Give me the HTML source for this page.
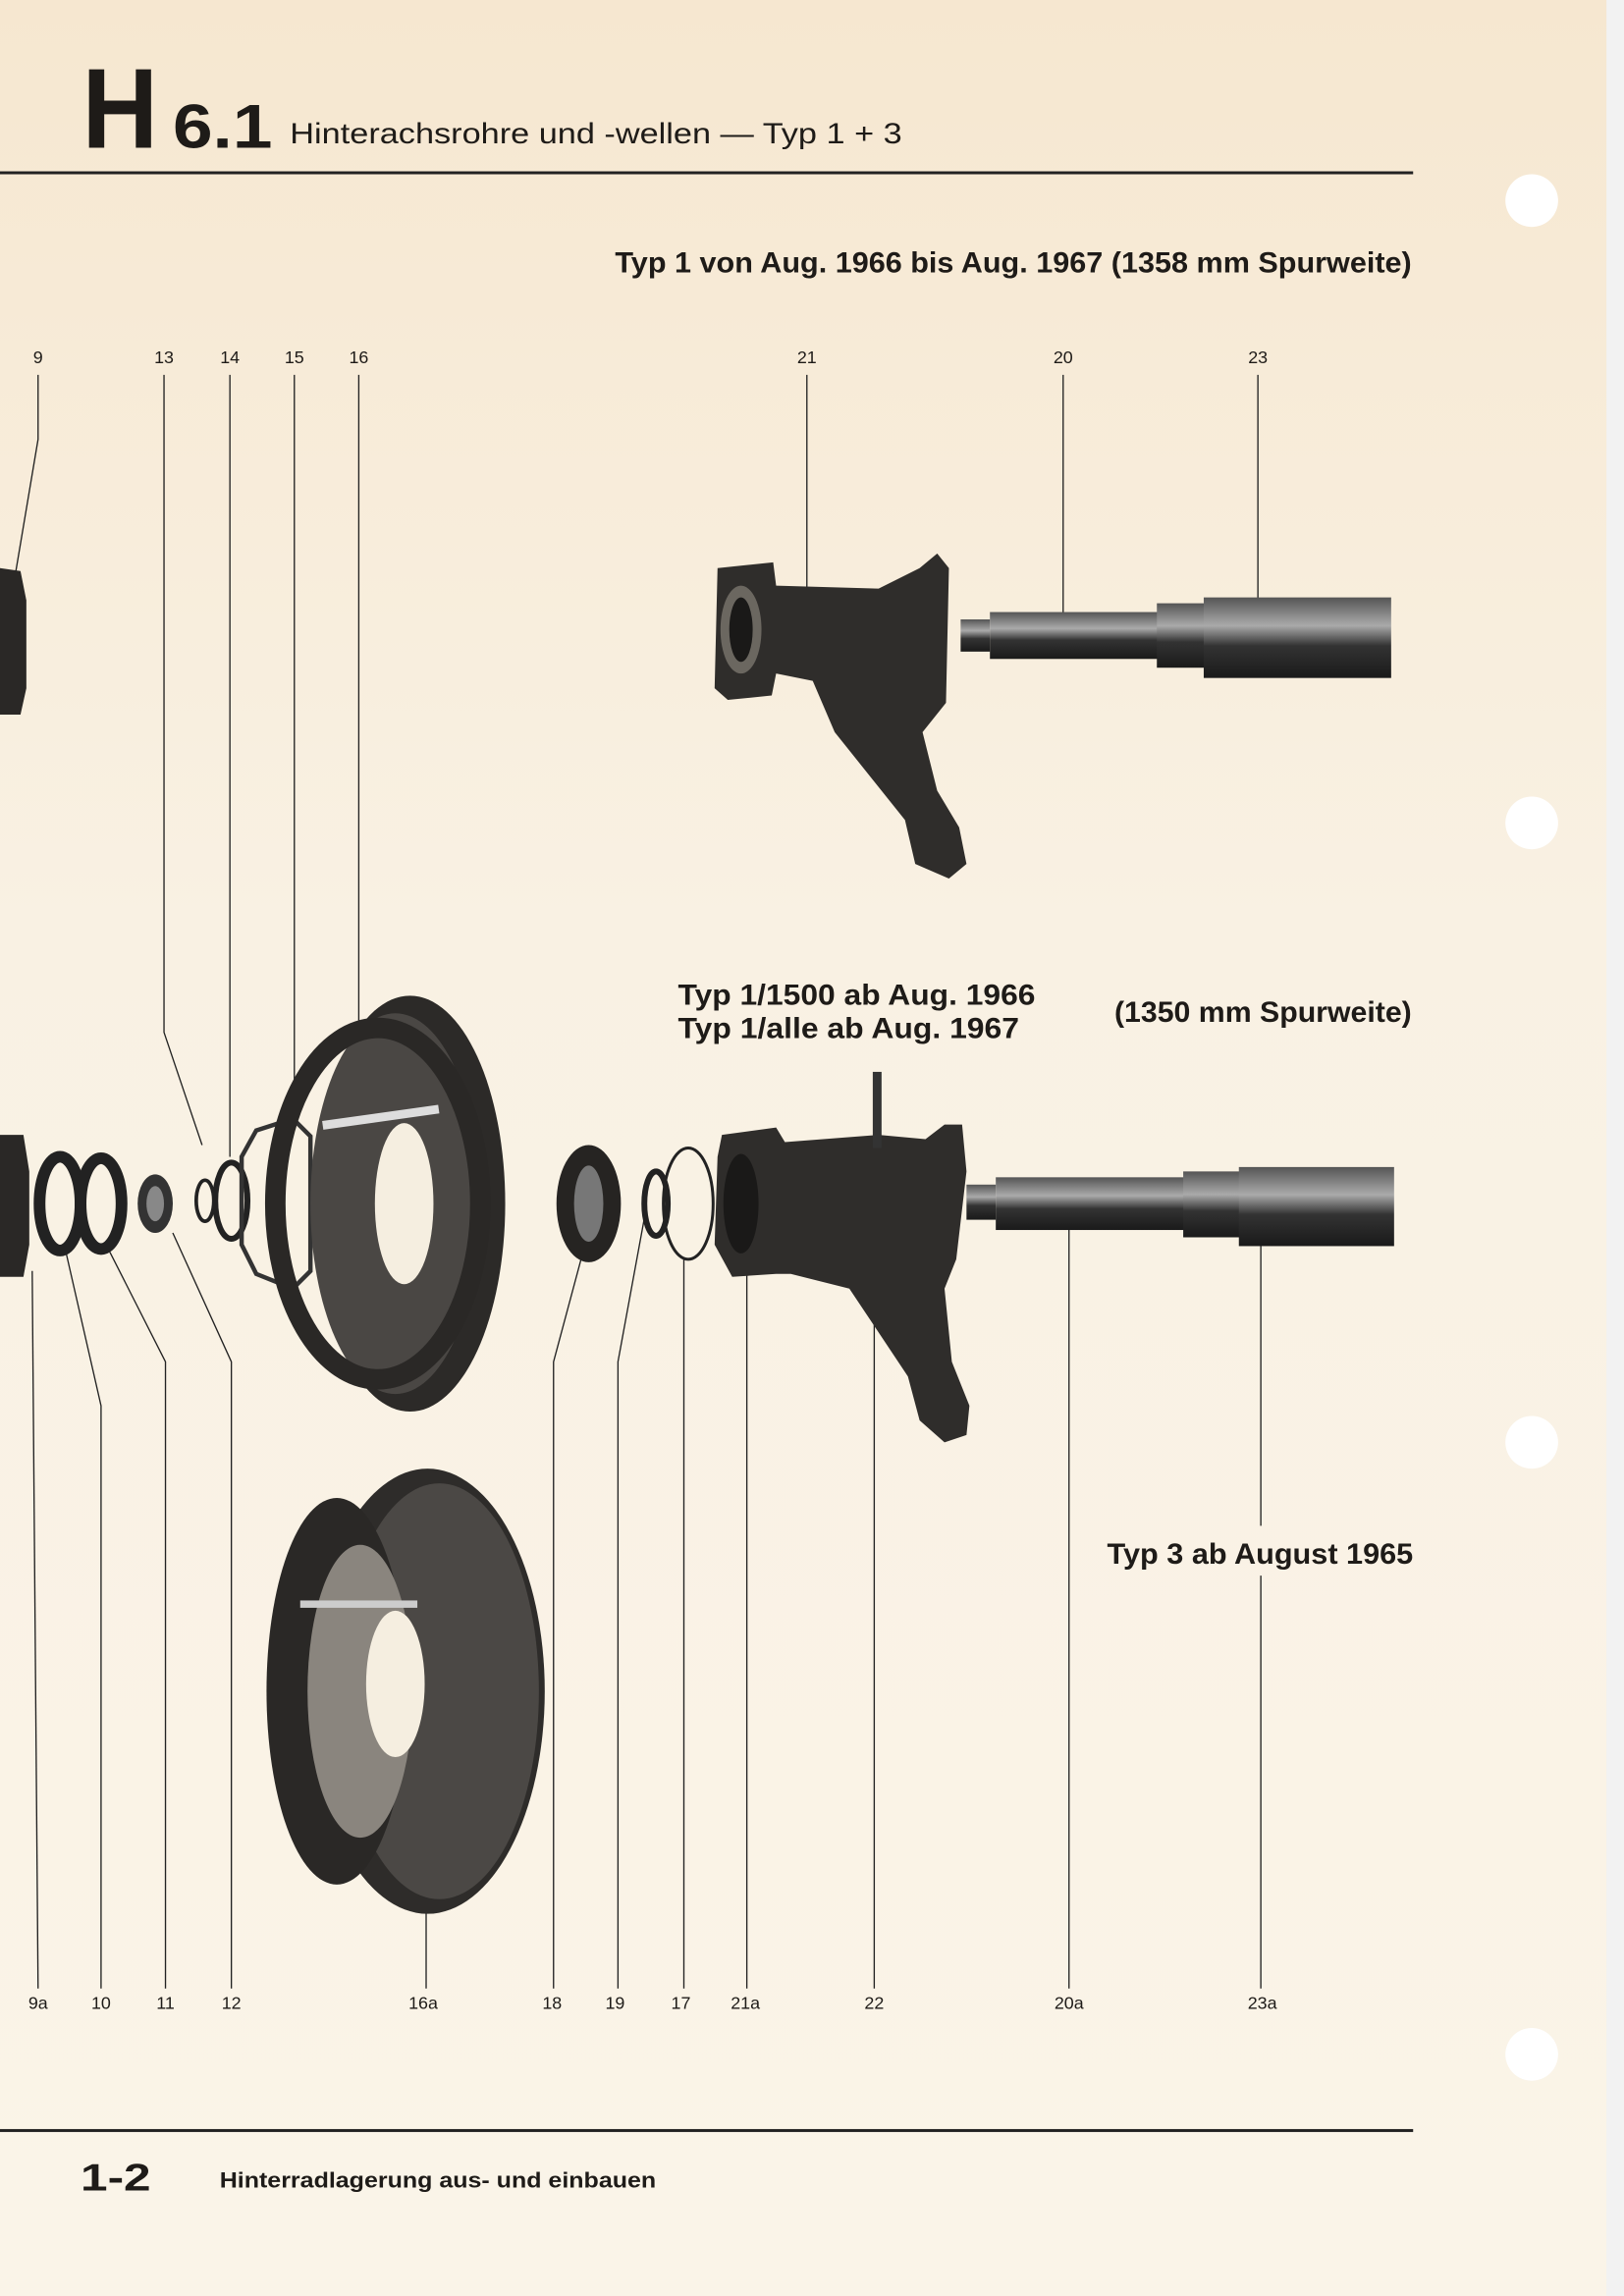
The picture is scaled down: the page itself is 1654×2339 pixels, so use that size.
<!DOCTYPE html>
<html><head><meta charset="utf-8"><style>
html,body{margin:0;padding:0;background:#f8f0e1}
svg{display:block}
text{font-family:"Liberation Sans",sans-serif;fill:#1e1b18}
</style></head><body>
<svg width="1654" height="2339" viewBox="0 0 1109 1568" preserveAspectRatio="none" xmlns="http://www.w3.org/2000/svg">
<defs>
<linearGradient id="bg" x1="0" y1="0" x2="0" y2="1"><stop offset="0" stop-color="#f6e7d0"/><stop offset="0.4" stop-color="#f9f1e3"/><stop offset="1" stop-color="#faf4e8"/></linearGradient>
<linearGradient id="met" x1="0" y1="0" x2="0" y2="1"><stop offset="0" stop-color="#555"/><stop offset="0.35" stop-color="#aaa"/><stop offset="0.6" stop-color="#333"/><stop offset="1" stop-color="#1a1a1a"/></linearGradient>
</defs>
<rect width="1109" height="1568" fill="url(#bg)"/>
<rect x="1097" y="0" width="12" height="1568" fill="#f2f2f2"/>
<g fill="#fff"><circle cx="1046" cy="137" r="18"/><circle cx="1046" cy="562" r="18"/><circle cx="1046" cy="985" r="18"/><circle cx="1046" cy="1403" r="18"/></g>

<!-- header -->
<text x="56" y="101" font-size="78" font-weight="bold" textLength="52" lengthAdjust="spacingAndGlyphs">H</text>
<text x="118" y="101" font-size="42" font-weight="bold" textLength="68" lengthAdjust="spacingAndGlyphs">6.1</text>
<text x="198" y="98" font-size="20" textLength="418" lengthAdjust="spacingAndGlyphs">Hinterachsrohre und -wellen — Typ 1 + 3</text>
<rect x="0" y="117" width="965" height="2" fill="#222"/>
<text x="420" y="186" font-size="20" font-weight="bold" textLength="544" lengthAdjust="spacingAndGlyphs">Typ 1 von Aug. 1966 bis Aug. 1967 (1358 mm Spurweite)</text>

<!-- top labels -->
<g font-size="12" text-anchor="middle">
<text x="26" y="248">9</text><text x="112" y="248">13</text><text x="157" y="248">14</text><text x="201" y="248">15</text><text x="245" y="248">16</text>
<text x="551" y="248">21</text><text x="726" y="248">20</text><text x="859" y="248">23</text>
</g>
<!-- bottom labels -->
<g font-size="12" text-anchor="middle">
<text x="26" y="1372">9a</text><text x="69" y="1372">10</text><text x="113" y="1372">11</text><text x="158" y="1372">12</text>
<text x="289" y="1372">16a</text><text x="377" y="1372">18</text><text x="420" y="1372">19</text><text x="465" y="1372">17</text>
<text x="509" y="1372">21a</text><text x="597" y="1372">22</text><text x="730" y="1372">20a</text><text x="862" y="1372">23a</text>
</g>

<text x="463" y="686" font-size="20" font-weight="bold" textLength="244" lengthAdjust="spacingAndGlyphs">Typ 1/1500 ab Aug. 1966</text>
<text x="463" y="709" font-size="20" font-weight="bold" textLength="233" lengthAdjust="spacingAndGlyphs">Typ 1/alle ab Aug. 1967</text>
<text x="761" y="698" font-size="20" font-weight="bold" textLength="203" lengthAdjust="spacingAndGlyphs">(1350 mm Spurweite)</text>
<text x="756" y="1068" font-size="20" font-weight="bold" textLength="209" lengthAdjust="spacingAndGlyphs">Typ 3 ab August 1965</text>

<rect x="0" y="1454" width="965" height="2" fill="#222"/>
<text x="55" y="1496" font-size="26" font-weight="bold" textLength="48" lengthAdjust="spacingAndGlyphs">1-2</text>
<text x="150" y="1494" font-size="15" font-weight="bold" textLength="298" lengthAdjust="spacingAndGlyphs">Hinterradlagerung aus- und einbauen</text>

<!-- leader lines -->
<g stroke="#222" stroke-width="0.9" fill="none">
<polyline points="26,256 26,300 10,395"/>
<polyline points="112,256 112,705 138,782"/>
<polyline points="157,256 157,790"/>
<polyline points="201,256 201,760"/>
<polyline points="245,256 245,712"/>
<polyline points="551,256 551,418"/>
<polyline points="726,256 726,430"/>
<polyline points="859,256 859,422"/>
<polyline points="22,868 26,1358"/>
<polyline points="45,855 69,960 69,1358"/>
<polyline points="75,855 113,930 113,1358"/>
<polyline points="118,842 158,930 158,1358"/>
<polyline points="291,1288 291,1358"/>
<polyline points="400,848 378,930 378,1358"/>
<polyline points="440,832 422,930 422,1358"/>
<polyline points="467,860 467,1358"/>
<polyline points="510,862 510,1358"/>
<polyline points="597,770 597,1358"/>
<polyline points="730,838 730,1358"/>
<polyline points="861,838 861,1042"/>
<polyline points="861,1076 861,1358"/>
</g>

<!-- top part 9 -->
<path d="M0,388 L14,390 L18,410 L18,470 L14,488 L0,488 Z" fill="#2a2826"/>
<!-- top knuckle 21 -->
<g fill="#2f2d2b">
<path d="M490,388 L528,384 L530,400 L600,402 L628,388 L640,378 L648,388 L646,480 L630,500 L640,540 L655,565 L660,590 L648,600 L625,590 L618,560 L570,500 L555,465 L530,460 L527,475 L497,478 L488,470 Z"/>
</g>
<ellipse cx="506" cy="430" rx="14" ry="30" fill="#6b6760"/>
<ellipse cx="506" cy="430" rx="8" ry="22" fill="#1a1918"/>
<!-- top shaft -->
<rect x="656" y="423" width="20" height="22" fill="url(#met)"/>
<rect x="676" y="418" width="115" height="32" fill="url(#met)"/>
<rect x="790" y="412" width="35" height="44" fill="url(#met)"/>
<rect x="822" y="408" width="128" height="55" fill="url(#met)"/>

<!-- left part 9a & rings -->
<path d="M0,775 L16,775 L20,800 L20,850 L16,872 L0,872 Z" fill="#2a2826"/>
<ellipse cx="41" cy="822" rx="14" ry="32" fill="none" stroke="#222" stroke-width="8"/>
<ellipse cx="69" cy="822" rx="14" ry="31" fill="none" stroke="#222" stroke-width="8"/>
<ellipse cx="106" cy="822" rx="12" ry="20" fill="#333"/>
<ellipse cx="106" cy="822" rx="6" ry="12" fill="#888"/>
<ellipse cx="140" cy="820" rx="6" ry="14" fill="none" stroke="#222" stroke-width="2.5"/>
<ellipse cx="158" cy="820" rx="11" ry="26" fill="none" stroke="#222" stroke-width="4"/>
<!-- gasket 15 -->
<path d="M175,772 L200,764 L212,776 L212,868 L200,880 L175,870 L165,850 L165,790 Z" fill="none" stroke="#333" stroke-width="3"/>
<!-- brake backing plate 16 -->
<ellipse cx="280" cy="822" rx="65" ry="142" fill="#2c2a28"/>
<ellipse cx="270" cy="822" rx="58" ry="130" fill="#4a4744"/>
<ellipse cx="258" cy="822" rx="70" ry="120" fill="none" stroke="#2a2826" stroke-width="14"/>
<ellipse cx="276" cy="822" rx="20" ry="55" fill="#f5eee0"/>
<rect x="220" y="760" width="80" height="6" fill="#ddd" transform="rotate(-8 260 763)"/>
<!-- bearing 18 -->
<ellipse cx="402" cy="822" rx="22" ry="40" fill="#262422"/>
<ellipse cx="402" cy="822" rx="10" ry="26" fill="#777"/>
<ellipse cx="448" cy="822" rx="8" ry="22" fill="none" stroke="#222" stroke-width="4"/>
<ellipse cx="470" cy="822" rx="17" ry="38" fill="none" stroke="#222" stroke-width="2"/>
<!-- middle knuckle -->
<path d="M493,775 L530,770 L536,780 L600,775 L632,778 L645,768 L657,768 L660,800 L653,860 L645,880 L650,930 L662,960 L660,980 L645,985 L628,970 L620,940 L580,880 L540,870 L530,870 L500,872 L488,850 L490,790 Z" fill="#2f2d2b"/>
<ellipse cx="506" cy="822" rx="12" ry="34" fill="#1a1918"/>
<rect x="596" y="732" width="6" height="52" fill="#333"/>
<!-- middle shaft -->
<rect x="660" y="809" width="20" height="24" fill="url(#met)"/>
<rect x="680" y="804" width="130" height="36" fill="url(#met)"/>
<rect x="808" y="800" width="40" height="45" fill="url(#met)"/>
<rect x="846" y="797" width="106" height="54" fill="url(#met)"/>

<!-- lower drum 16a -->
<ellipse cx="292" cy="1155" rx="80" ry="152" fill="#2e2c2a"/>
<ellipse cx="300" cy="1155" rx="68" ry="142" fill="#4b4845"/>
<ellipse cx="230" cy="1155" rx="48" ry="132" fill="#2a2826"/>
<ellipse cx="246" cy="1155" rx="36" ry="100" fill="#8a857e"/>
<ellipse cx="270" cy="1150" rx="20" ry="50" fill="#f5eee0"/>
<rect x="205" y="1093" width="80" height="5" fill="#ccc"/>
</svg>
</body></html>
